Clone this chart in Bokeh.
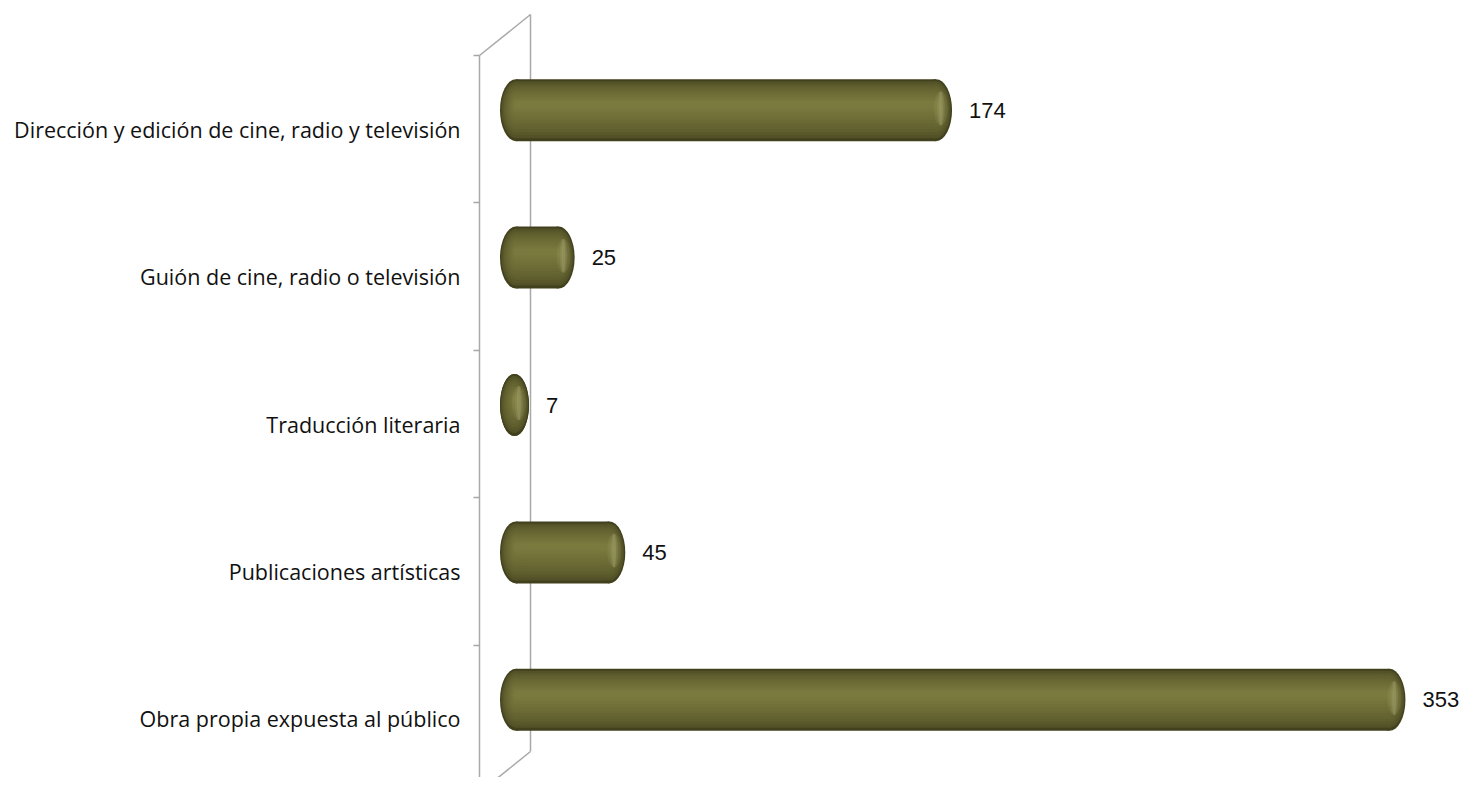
from bokeh.plotting import figure
from bokeh.models import FixedTicker, Range1d
from bokeh.embed import file_html
from bokeh.resources import INLINE
from bokeh.core.properties import value

# ---- data ----
categories = [
    "Obra propia expuesta al público",
    "Publicaciones artísticas",
    "Traducción literaria",
    "Guión de cine, radio o televisión",
    "Dirección y edición de cine, radio y televisión",
]
values = [353, 45, 7, 25, 174]
value_labels = [str(v) for v in values]

# ---- layout constants (pixels) ----
W, H = 1461, 777
PX = 2.533                 # px per value unit
ZERO_PX = 510.8            # plot px of value 0
LEFT_BORDER = 476
PY = 147.4                 # px per category
TOP_BOUND_PX = 55          # plot px of upper boundary (4.5)

x_start = (LEFT_BORDER - ZERO_PX) / PX
x_end = (W - ZERO_PX) / PX
n = len(categories)
y_end = (n - 0.5) + TOP_BOUND_PX / PY
y_start = y_end - H / PY

p = figure(width=W, height=H, output_backend="svg", toolbar_location=None,
           x_range=Range1d(x_start, x_end), y_range=Range1d(y_start, y_end),
           x_axis_type=None, min_border_left=LEFT_BORDER, min_border_right=0,
           min_border_top=0, min_border_bottom=0)
p.outline_line_color = None
p.xgrid.visible = False
p.ygrid.visible = False
p.background_fill_color = "white"
p.border_fill_color = "white"

# axis
ax = p.yaxis[0]
ax.ticker = FixedTicker(ticks=list(range(n)),
                        minor_ticks=[i - 0.5 for i in range(n + 1)])
ax.major_label_overrides = {i: c for i, c in enumerate(categories)}
ax.axis_line_color = None
ax.major_tick_in = 0
ax.major_tick_out = 0
ax.minor_tick_in = 3
ax.minor_tick_out = 3
ax.minor_tick_line_color = "#a6a6a6"
ax.minor_tick_line_width = 1.5
ax.major_label_standoff = 13
ax.major_label_text_font = "Open Sans"
ax.major_label_text_font_size = "21.5px"
ax.major_label_text_color = "#111111"

# ---- 3D wall ----
front_x = (479 - ZERO_PX) / PX
back_x = (530 - ZERO_PX) / PX
depth_y = 41 / PY
y_top = n - 0.5
y_bot = -0.5
wall_col = "#a9a9a9"
p.line([front_x, front_x], [y_bot, y_top], line_color=wall_col, line_width=1.5)
p.line([back_x, back_x], [y_bot + depth_y, y_top + depth_y], line_color=wall_col, line_width=1.5)
p.line([front_x, back_x], [y_top, y_top + depth_y], line_color=wall_col, line_width=1.5)
p.line([front_x, back_x], [y_bot, y_bot + depth_y], line_color=wall_col, line_width=1.5)

# ---- cylinders ----
bar_h = 62 / PY
bar_shift = 19 / PY
bar_left = (499.5 - ZERO_PX) / PX
rx_full = 16 / PX

dark = (66, 65, 30)
light = (122, 121, 62)
N = 12
for i, v in enumerate(values):
    cy = i + bar_shift
    L, R = bar_left, v
    rx = min(rx_full, (R - L) / 2)
    for k in range(N):
        t = k / (N - 1)
        f = 1 - 0.88 * t
        c = tuple(int(dark[j] + (light[j] - dark[j]) * (t ** 0.5)) for j in range(3))
        col = "#%02x%02x%02x" % c
        yy = cy + (1 - f) * bar_h * 0.1
        hh = bar_h * f
        if R - rx > L + rx:
            p.hbar(y=[yy], left=[L + rx], right=[R - rx], height=hh,
                   fill_color=col, line_color=None)
        p.ellipse(x=[L + rx, R - rx], y=[yy, yy], width=2 * rx * f, height=hh,
                  fill_color=col, line_color=None)
    # soft specular highlight near the right cap
    for w_px, a in [(14, 0.10), (8, 0.15), (4, 0.2)]:
        p.ellipse(x=[R - rx * 0.7], y=[cy + bar_h * 0.03], width=w_px / PX,
                  height=bar_h * 0.55, fill_color="#c2c18e", fill_alpha=a, line_color=None)

# ---- value labels ----
p.text(x=values, y=[i + bar_shift for i in range(n)], text=value_labels,
       x_offset=17, text_baseline="middle", text_align="left",
       text_font=value("Liberation Sans"), text_font_size="22px", text_color="#111111")

open("out.html", "w").write(file_html(p, INLINE))
